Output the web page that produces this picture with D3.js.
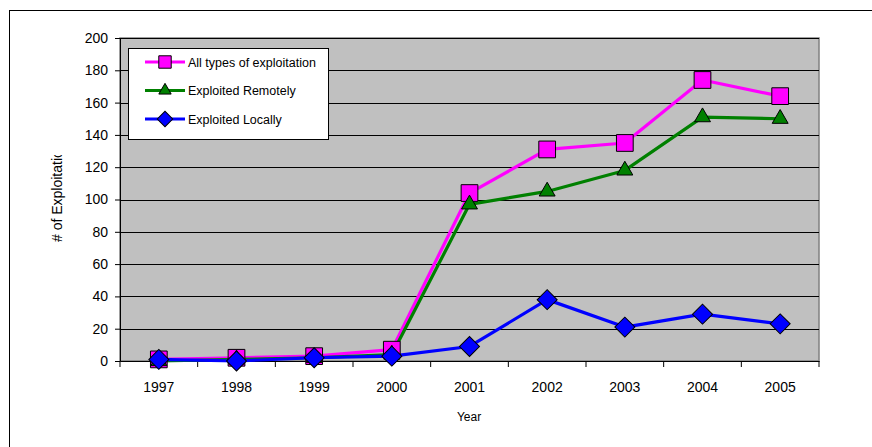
<!DOCTYPE html>
<html>
<head>
<meta charset="utf-8">
<script src="https://cdn.jsdelivr.net/npm/d3@7"></script>
<style>
  body { margin: 0; background: #fff; }
  svg { display: block; font-family: Arial, "Liberation Sans", sans-serif; }
</style>
</head>
<body>
<svg id="chart" width="872" height="447"></svg>
<script>
// chart values
const years = ["1997", "1998", "1999", "2000", "2001", "2002", "2003", "2004", "2005"];
const allTypes = [1, 2, 3, 7, 104, 131, 135, 174, 164];
const remotely = [0, 1, 2, 4, 97, 105, 118, 151, 150];
const locally = [1, 0, 2, 3, 9, 38, 21, 29, 23];
const yTicks = [0, 20, 40, 60, 80, 100, 120, 140, 160, 180, 200];

const seriesList = [
  { name: "All types of exploitation", values: allTypes, color: "#FF00FF", marker: "square" },
  { name: "Exploited Remotely", values: remotely, color: "#008000", marker: "triangle" },
  { name: "Exploited Locally", values: locally, color: "#0000FF", marker: "diamond" }
];

const svg = d3.select("#chart");
const plot = { left: 120, top: 38, right: 819, bottom: 361 };

// outer chart frame (runs off the page on the right and bottom)
svg.append("rect")
  .attr("x", 9.5).attr("y", 10.5)
  .attr("width", 1000).attr("height", 600)
  .attr("fill", "#fff").attr("stroke", "#000").attr("stroke-width", 1);

const x = d3.scaleBand().domain(years).range([plot.left, plot.right]);
const y = d3.scaleLinear().domain([0, 200]).range([plot.bottom, plot.top]);

// plot area background
svg.append("rect")
  .attr("x", plot.left).attr("y", plot.top)
  .attr("width", plot.right - plot.left).attr("height", plot.bottom - plot.top)
  .attr("fill", "#C0C0C0").attr("stroke", "#808080").attr("stroke-width", 1.5);

// gridlines
svg.append("g")
  .selectAll("line")
  .data(yTicks.filter(d => d > 0))
  .join("line")
  .attr("x1", plot.left).attr("x2", plot.right)
  .attr("y1", d => Math.round(y(d)) + 0.5).attr("y2", d => Math.round(y(d)) + 0.5)
  .attr("stroke", "#000").attr("stroke-width", 1);

// y axis
const yAxis = svg.append("g")
  .attr("transform", `translate(${plot.left},0)`)
  .call(d3.axisLeft(y).tickValues(yTicks).tickSize(5).tickPadding(7));
yAxis.selectAll("text").attr("font-size", 14).attr("fill", "#000")
  .attr("font-family", "Arial, 'Liberation Sans', sans-serif");

// x axis with ticks on category boundaries
const xAxis = svg.append("g")
  .attr("transform", `translate(0,${plot.bottom})`)
  .call(d3.axisBottom(x).tickSize(0).tickPadding(21));
xAxis.selectAll("text").attr("font-size", 14).attr("fill", "#000")
  .attr("font-family", "Arial, 'Liberation Sans', sans-serif");
xAxis.selectAll(".bound")
  .data(years.map((d, i) => i).concat([years.length]))
  .join("line")
  .attr("class", "bound")
  .attr("x1", i => plot.left + i * x.step()).attr("x2", i => plot.left + i * x.step())
  .attr("y1", 0).attr("y2", 6)
  .attr("stroke", "#000");

// axis titles
svg.append("text")
  .attr("x", 469).attr("y", 421)
  .attr("text-anchor", "middle")
  .attr("font-size", 12)
  .text("Year");

svg.append("clipPath").attr("id", "ytitle-clip")
  .append("rect").attr("x", 0).attr("y", 155).attr("width", 120).attr("height", 200);

svg.append("g").attr("clip-path", "url(#ytitle-clip)")
  .append("text")
  .attr("transform", "translate(62,242) rotate(-90)")
  .attr("font-size", 14)
  .text("# of Exploitations");

// marker shapes
const markerPath = (kind, scale) => {
  if (kind === "square") return d3.symbol().type(d3.symbolSquare).size(280 * scale)();
  if (kind === "triangle") return d3.symbol().type(d3.symbolTriangle).size(110 * scale)();
  return d3.symbol().type(d3.symbolSquare).size(200 * scale)();
};
const markerRotate = kind => kind === "diamond" ? " rotate(45)" : "";

const line = d3.line()
  .x((d, i) => x(years[i]) + x.bandwidth() / 2)
  .y(d => y(d));

seriesList.forEach(s => {
  svg.append("path")
    .attr("d", line(s.values))
    .attr("fill", "none")
    .attr("stroke", s.color)
    .attr("stroke-width", 3.2)
    .attr("stroke-linejoin", "round");
});
seriesList.forEach(s => {
  svg.append("g")
    .selectAll("path")
    .data(s.values)
    .join("path")
    .attr("transform", (d, i) => `translate(${x(years[i]) + x.bandwidth() / 2},${y(d)})` + markerRotate(s.marker))
    .attr("d", markerPath(s.marker, 1))
    .attr("fill", s.color)
    .attr("stroke", "#000")
    .attr("stroke-width", 1);
});

// legend
const legend = svg.append("g").attr("transform", "translate(128,48)");
legend.append("rect")
  .attr("x", 0.5).attr("y", 0.5)
  .attr("width", 200).attr("height", 91)
  .attr("fill", "#fff").attr("stroke", "#000");

const rows = legend.selectAll(".row")
  .data(seriesList)
  .join("g")
  .attr("class", "row")
  .attr("transform", (d, i) => `translate(0,${14 + i * 28.5})`);
rows.append("line")
  .attr("x1", 17).attr("x2", 57).attr("y1", 0).attr("y2", 0)
  .attr("stroke", d => d.color).attr("stroke-width", 3.2);
rows.append("path")
  .attr("transform", d => "translate(37,0)" + markerRotate(d.marker))
  .attr("d", d => markerPath(d.marker, d.marker === "square" ? 0.55 : 0.6))
  .attr("fill", d => d.color)
  .attr("stroke", "#000");
rows.append("text")
  .attr("x", 60).attr("y", 4.5)
  .attr("font-size", 12.5)
  .text(d => d.name);
</script>
</body>
</html>
